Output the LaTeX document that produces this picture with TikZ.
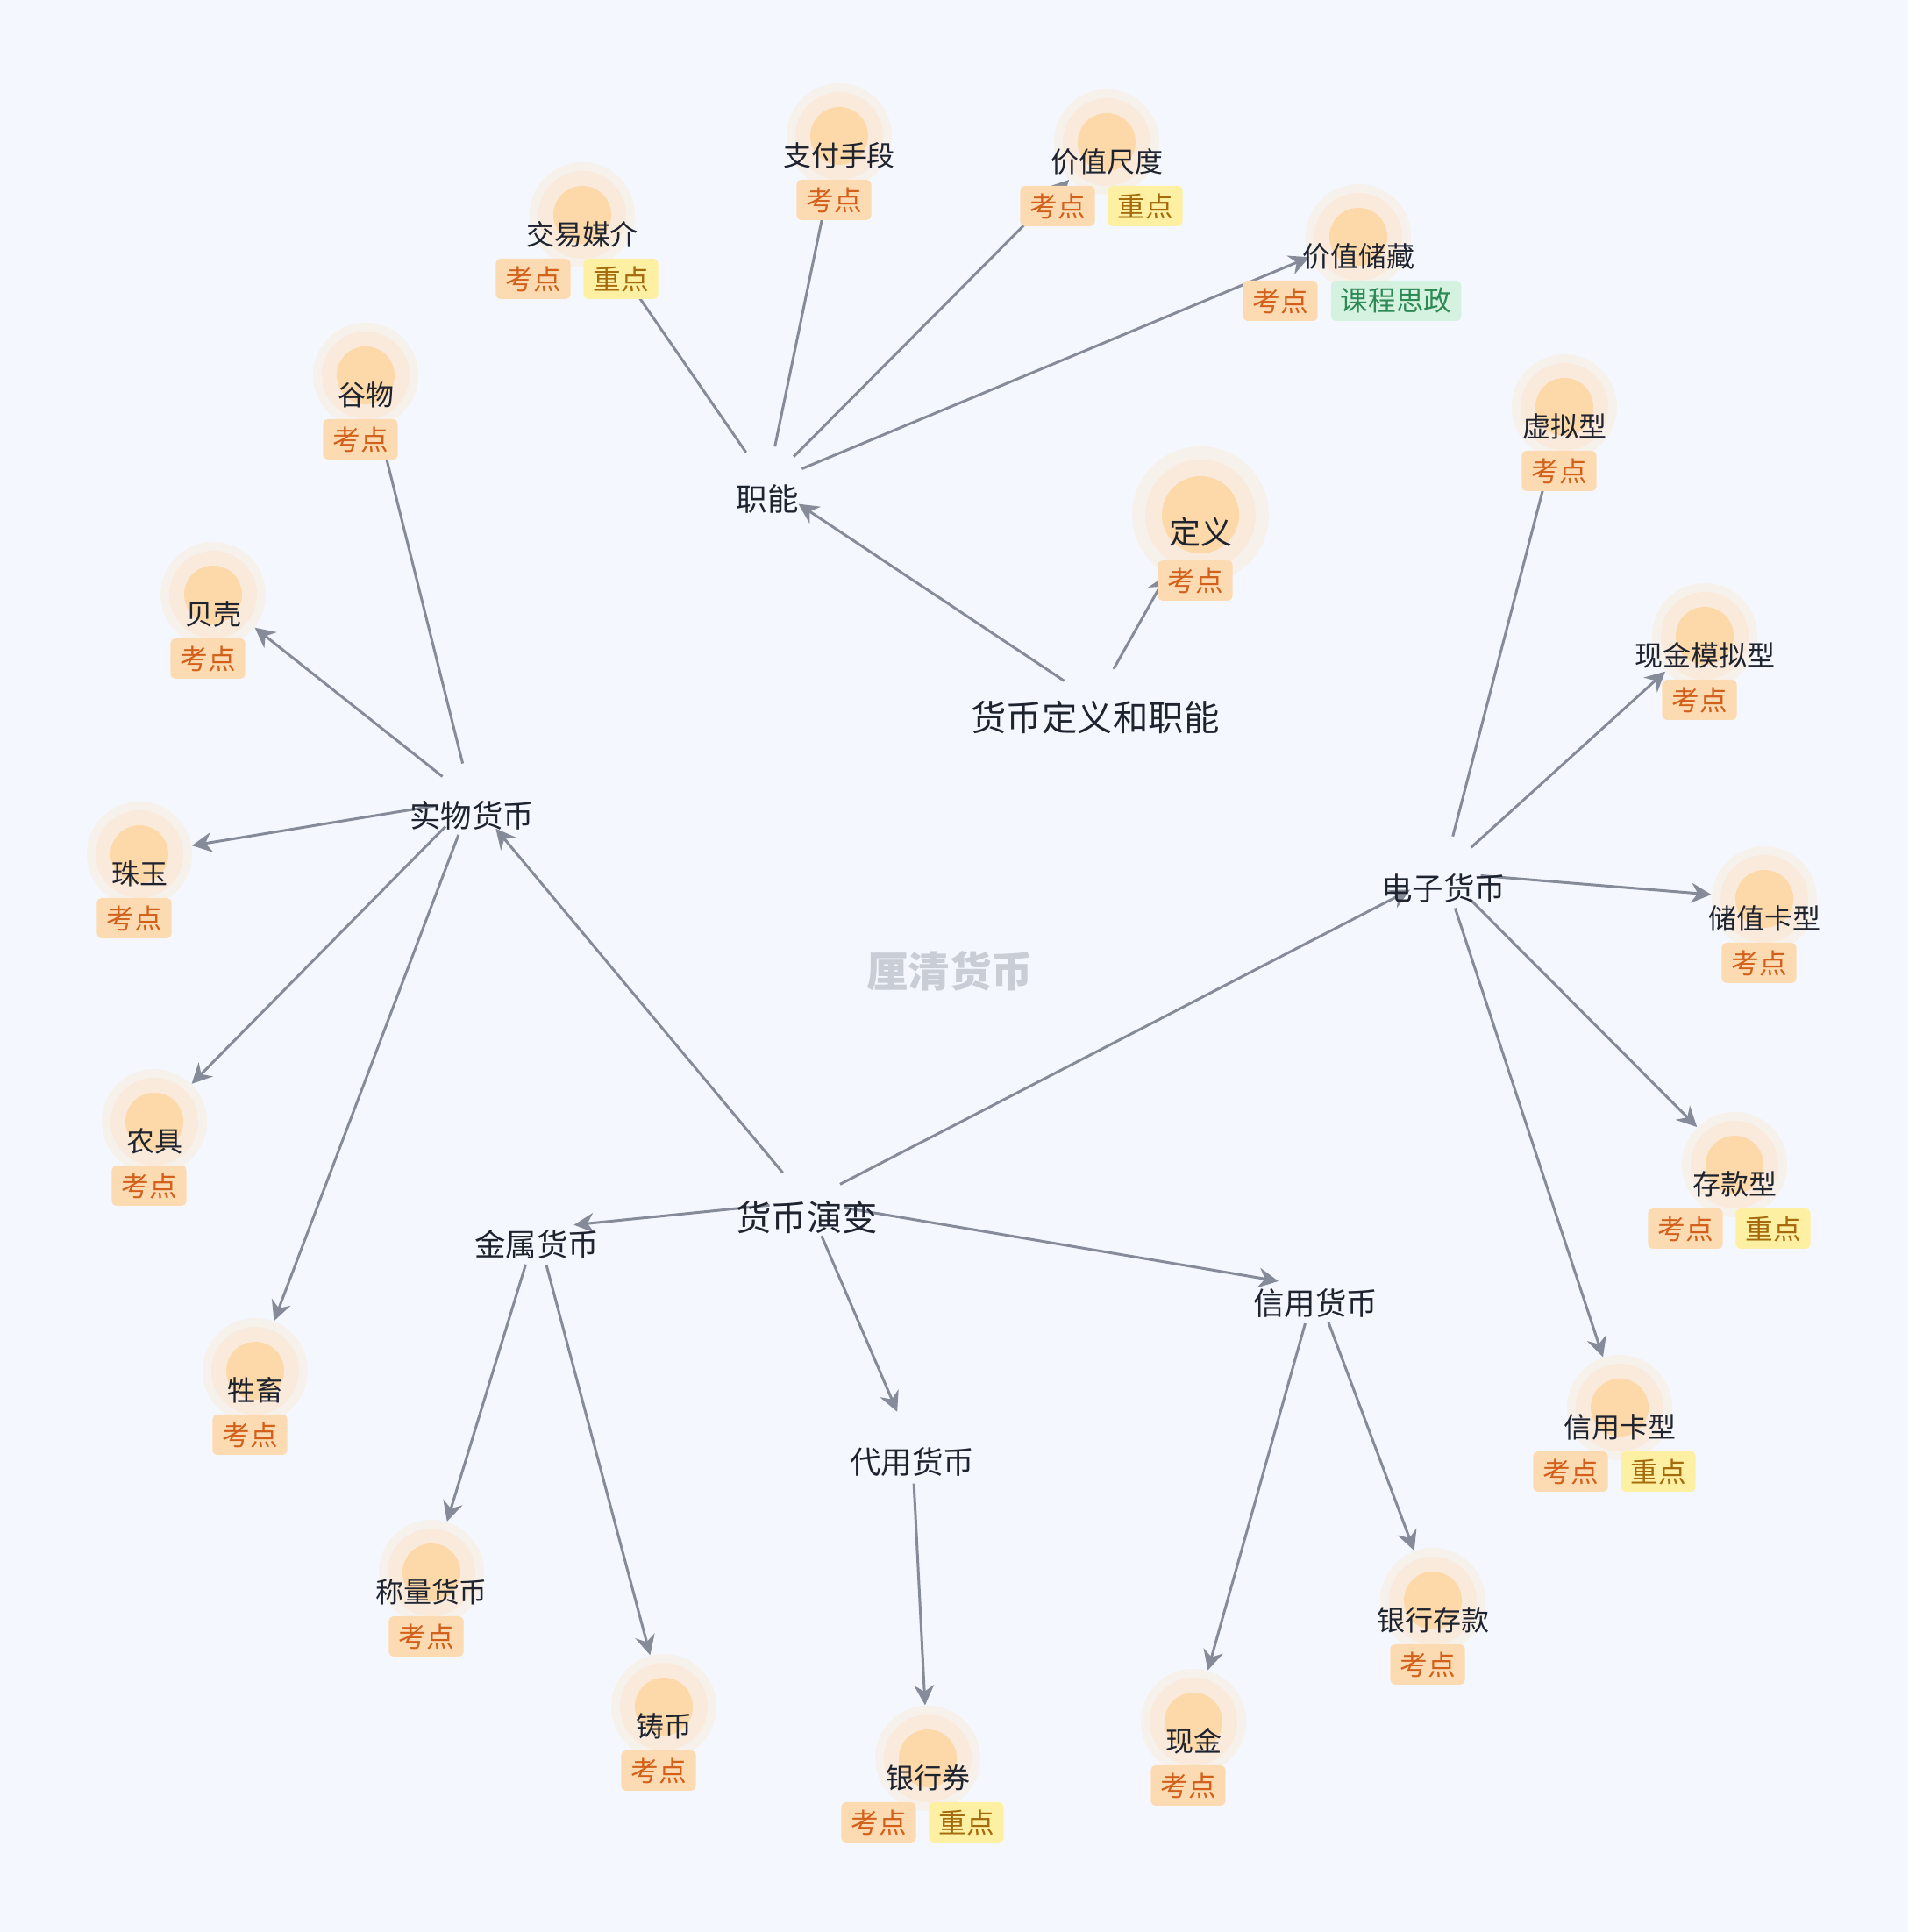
\documentclass[tikz,border=0pt]{standalone}
\usepackage{fontspec}
\newfontfamily\cjk{Noto Sans CJK SC}
\usetikzlibrary{arrows.meta}
\usepackage{xcolor}

\definecolor{bgblue}{HTML}{F4F7FD}
\definecolor{inkdark}{HTML}{1E2330}
\definecolor{edgegray}{HTML}{868B99}
\definecolor{glowout}{HTML}{F7F1EC}
\definecolor{glowring}{HTML}{FAEADB}
\definecolor{glowcore}{HTML}{FDD8A9}
\definecolor{kdfill}{HTML}{FDDBB2}
\definecolor{kdtext}{HTML}{D2601A}
\definecolor{zdfill}{HTML}{FEF0A2}
\definecolor{zdtext}{HTML}{A46A0C}
\definecolor{szfill}{HTML}{D5F1DF}
\definecolor{sztext}{HTML}{2E8A55}
\definecolor{markgray}{HTML}{C9CDD6}

\pgfdeclarelayer{bg}
\pgfdeclarelayer{edges}
\pgfsetlayers{bg,edges,main}

\begin{document}
\begin{tikzpicture}[font=\cjk, >={Stealth[length=6.5pt,width=6.5pt]},
  hub/.style={circle, inner sep=0pt, minimum size=0.84cm},
  major/.style={font={\cjk\fontsize{10.1pt}{12pt}\selectfont}, text=inkdark, inner sep=2pt},
  bigmajor/.style={font={\cjk\fontsize{11.5pt}{13pt}\selectfont}, text=inkdark, inner sep=2pt},
  leaf/.style={font={\cjk\fontsize{9.1pt}{11pt}\selectfont}, text=inkdark, inner sep=1pt},
  glow/.style={circle, inner sep=0pt, minimum size=1.2cm, fill=glowout,
    path picture={
      \fill[glowring] (path picture bounding box.center) circle (0.5);
      \fill[glowcore] (path picture bounding box.center) circle (0.33);}},
  bigglow/.style={circle, inner sep=0pt, minimum size=1.56cm, fill=glowout,
    path picture={
      \fill[glowring] (path picture bounding box.center) circle (0.63);
      \fill[glowcore] (path picture bounding box.center) circle (0.44);}},
  tagbox/.style={font={\cjk\fontsize{9pt}{11pt}\selectfont}, rounded corners=1.5pt,
    inner xsep=0.11cm, inner ysep=0pt, minimum height=0.46cm},
  kaodian/.style={tagbox, fill=kdfill, text=kdtext},
  zhongdian/.style={tagbox, fill=zdfill, text=zdtext},
  sizheng/.style={tagbox, fill=szfill, text=sztext},
  link/.style={->, draw=edgegray, line width=0.85pt}]

  %% Canvas
  \useasboundingbox (0,0) rectangle (21.76,22.03);
  \begin{pgfonlayer}{bg}
    \fill[bgblue] (0,0) rectangle (21.76,22.03);
  \end{pgfonlayer}

  %% Watermark (root)
  \node[font={\cjk\bfseries\fontsize{13.5pt}{15pt}\selectfont}, text=markgray] (root) at (10.83,10.96) {厘清货币};

  %% Branch nodes: hub point sits a little above its text
  \foreach \nm/\x/\y/\lbl/\sty in {hbdy/12.49/13.85/货币定义和职能/bigmajor,
      zhineng/8.75/16.34/职能/major, yanbian/9.20/8.15/货币演变/bigmajor,
      shiwu/5.38/12.73/实物货币/major, jinshu/6.12/7.84/金属货币/major,
      daiyong/10.40/5.36/代用货币/major, xinyong/15.00/7.17/信用货币/major,
      dianzi/16.46/11.90/电子货币/major}{
    \node[hub] (\nm) at (\x,\y+0.18) {};
    \node[\sty] (\nm-t) at (\x,\y) {\lbl};
  }

  %% Definition leaf (larger)
  \node[bigglow] (dingyi) at (13.69,16.16) {};
  \node[leaf, font={\cjk\fontsize{10.2pt}{12pt}\selectfont}] (dingyi-t) at (13.69,15.96) {定义};
  \node[kaodian] (dingyi-k) at (13.63,15.41) {考点};

  %% Leaves with one tag
  \foreach \nm/\x/\y/\lbl in {zhifu/9.57/20.26/支付手段, guwu/4.17/17.53/谷物,
      beike/2.43/15.03/贝壳, zhuyu/1.59/12.07/珠玉, nongju/1.76/9.02/农具,
      shengchu/2.91/6.18/牲畜, xuni/17.84/17.17/虚拟型, xjmn/19.44/14.56/现金模拟型,
      czk/20.12/11.56/储值卡型, chengliang/4.92/3.88/称量货币, zhubi/7.57/2.35/铸币,
      xianjin/13.61/2.18/现金, yhck/16.34/3.56/银行存款}{
    \node[glow] (\nm) at (\x,\y+0.22) {};
    \node[leaf] (\nm-t) at (\x,\y) {\lbl};
    \node[kaodian] (\nm-k) at (\x-0.06,\y-0.51) {考点};
  }

  %% Leaves with two tags
  \foreach \nm/\x/\y/\lbl in {jiaoyi/6.64/19.36/交易媒介, chidu/12.62/20.19/价值尺度,
      cunkuan/19.78/8.53/存款型, xyk/18.47/5.76/信用卡型, yhq/10.58/1.76/银行券}{
    \node[glow] (\nm) at (\x,\y+0.22) {};
    \node[leaf] (\nm-t) at (\x,\y) {\lbl};
    \node[kaodian] (\nm-k) at (\x-0.56,\y-0.51) {考点};
    \node[zhongdian] (\nm-z) at (\x+0.44,\y-0.51) {重点};
  }

  %% Store of value
  \node[glow] (chucang) at (15.49,19.33) {};
  \node[leaf] (chucang-t) at (15.49,19.11) {价值储藏};
  \node[kaodian] (chucang-k) at (14.60,18.60) {考点};
  \node[sizheng] (chucang-s) at (15.92,18.60) {课程思政};

  %% Connectors
  \begin{pgfonlayer}{edges}
    \foreach \a/\b in {hbdy/zhineng, hbdy/dingyi,
        zhineng/jiaoyi, zhineng/zhifu, zhineng/chidu, zhineng/chucang,
        yanbian/shiwu, yanbian/jinshu, yanbian/daiyong, yanbian/xinyong, yanbian/dianzi,
        shiwu/guwu, shiwu/beike, shiwu/zhuyu, shiwu/nongju, shiwu/shengchu,
        jinshu/chengliang, jinshu/zhubi, daiyong/yhq,
        xinyong/xianjin, xinyong/yhck,
        dianzi/xuni, dianzi/xjmn, dianzi/czk, dianzi/cunkuan, dianzi/xyk}{
      \draw[link] (\a) -- (\b);
    }
  \end{pgfonlayer}
\end{tikzpicture}
\end{document}
